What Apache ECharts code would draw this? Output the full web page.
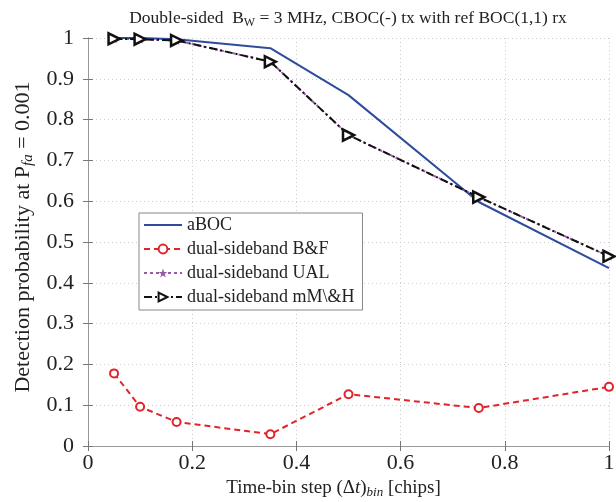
<!DOCTYPE html>
<html><head><meta charset="utf-8">
<script src="https://cdn.jsdelivr.net/npm/echarts@6/dist/echarts.min.js"></script>
<style>html,body{margin:0;padding:0;background:#fff}#c{width:616px;height:502px}</style>
</head><body><div id="c"></div>
<script>
const xSteps = [0.05, 0.1, 0.17, 0.35, 0.5, 0.75, 1.0];
const aBOC = [1.0, 1.0, 0.997, 0.975, 0.86, 0.598, 0.436];
const dualBF = [0.178, 0.096, 0.059, 0.029, 0.127, 0.093, 0.145];
const dualUAL = [0.998, 0.997, 0.994, 0.942, 0.762, 0.61, 0.465];
const dualMMH = [0.998, 0.997, 0.994, 0.942, 0.762, 0.61, 0.465];
const xTicks = [0, 0.2, 0.4, 0.6, 0.8, 1];
const yTicks = [0, 0.1, 0.2, 0.3, 0.4, 0.5, 0.6, 0.7, 0.8, 0.9, 1];
const names = ['aBOC', 'dual-sideband B&F', 'dual-sideband UAL', 'dual-sideband mM\\&H'];

const F = 'Liberation Serif, Times New Roman, serif';
const pair = (xs, ys) => xs.map((x, i) => [x, ys[i]]);
const chart = echarts.init(document.getElementById('c'));
const axisCommon = {
  axisLine: {show: true, lineStyle: {color: '#999', width: 1}},
  axisTick: {show: true, inside: true, length: 5, lineStyle: {color: '#777'}},
};
const lineIcon = 'path://M0,0h0.01v0.01h-0.01zM0,4H38V6H0ZM37.99,9.99h0.01v0.01h-0.01z';
chart.setOption({
  animation: false,
  title: {
    text: 'Double-sided  B{s|W} = 3 MHz, CBOC(-) tx with ref BOC(1,1) rx',
    left: 343, top: 3, textAlign: 'center',
    textStyle: {fontFamily: F, fontSize: 17.5, fontWeight: 'normal', color: '#222',
      rich: {s: {fontFamily: F, fontSize: 12, color: '#222', padding: [9, 0, 0, 0]}}}
  },
  grid: {left: 88, right: 7, top: 38, bottom: 56, outerBoundsMode: 'none', containLabel: false},
  legend: {
    left: 139, top: 213, orient: 'vertical', width: 223,
    padding: [3, 8, 4, 4], itemGap: 6, itemWidth: 38, itemHeight: 11,
    backgroundColor: '#fff', borderColor: '#888', borderWidth: 1,
    textStyle: {fontFamily: F, fontSize: 18, color: '#222'},
    data: [{name: names[0], icon: lineIcon}, names[1], names[2], names[3]]
  },
  xAxis: [{
    type: 'value', min: 0, max: 1, interval: 0.2, position: 'bottom',
    ...axisCommon,
    axisLabel: {fontFamily: F, fontSize: 22, color: '#222', margin: 6},
    splitLine: {show: true, lineStyle: {color: '#ccc', type: [1, 3]}},
    name: 'Time-bin step (Δ{i|t}){b|bin} [chips]', nameLocation: 'middle', nameGap: 31,
    nameTextStyle: {fontFamily: F, fontSize: 19, color: '#222', padding: [0, 30, 0, 0],
      rich: {i: {fontFamily: F, fontSize: 19, fontStyle: 'italic', color: '#222'},
             b: {fontFamily: F, fontSize: 13, fontStyle: 'italic', color: '#222', padding: [9, 0, 0, 0]}}}
  }, {
    type: 'value', min: 0, max: 1, interval: 0.2, position: 'top',
    ...axisCommon, axisLabel: {show: false}, splitLine: {show: false}
  }],
  yAxis: [{
    type: 'value', min: 0, max: 1, interval: 0.1, position: 'left',
    ...axisCommon,
    axisLabel: {fontFamily: F, fontSize: 22, color: '#222', margin: 14},
    splitLine: {show: true, lineStyle: {color: '#ccc', type: [1, 3]}},
    name: 'Detection probability at P{s|fa} = 0.001', nameLocation: 'middle', nameGap: 44,
    nameTextStyle: {fontFamily: F, fontSize: 22, color: '#222', padding: [0, 0, 0, 10],
      rich: {s: {fontFamily: F, fontSize: 15, fontStyle: 'italic', color: '#222', padding: [10, 0, 0, 0]}}}
  }, {
    type: 'value', min: 0, max: 1, interval: 0.1, position: 'right',
    ...axisCommon, axisLabel: {show: false}, splitLine: {show: false}
  }],
  series: [
    {name: names[0], type: 'line', data: pair(xSteps, aBOC), showSymbol: false, symbol: 'none',
     lineStyle: {color: '#2d4c9c', width: 2}, itemStyle: {color: '#2d4c9c'}, z: 3},
    {name: names[1], type: 'line', data: pair(xSteps, dualBF), symbol: 'circle', symbolSize: 8,
     lineStyle: {color: '#e0242a', width: 2, type: [6, 4]},
     itemStyle: {color: '#fff', borderColor: '#e0242a', borderWidth: 2}, z: 3},
    {name: names[2], type: 'line', data: pair(xSteps, dualUAL), symbol: 'path://M0,-10L2.4,-3.2L9.5,-3.1L3.8,1.2L5.9,8.1L0,4L-5.9,8.1L-3.8,1.2L-9.5,-3.1L-2.4,-3.2Z', symbolSize: 9,
     lineStyle: {color: '#9a5aa8', width: 2, type: [3, 3]},
     itemStyle: {color: '#9a5aa8'}, z: 2},
    {name: names[3], type: 'line', data: pair(xSteps, dualMMH), symbol: 'triangle', symbolSize: 11, symbolRotate: -90,
     lineStyle: {color: '#111', width: 2, type: [8, 3, 2, 3]},
     itemStyle: {color: '#fff', borderColor: '#111', borderWidth: 2.5}, z: 4}
  ]
});
</script></body></html>
